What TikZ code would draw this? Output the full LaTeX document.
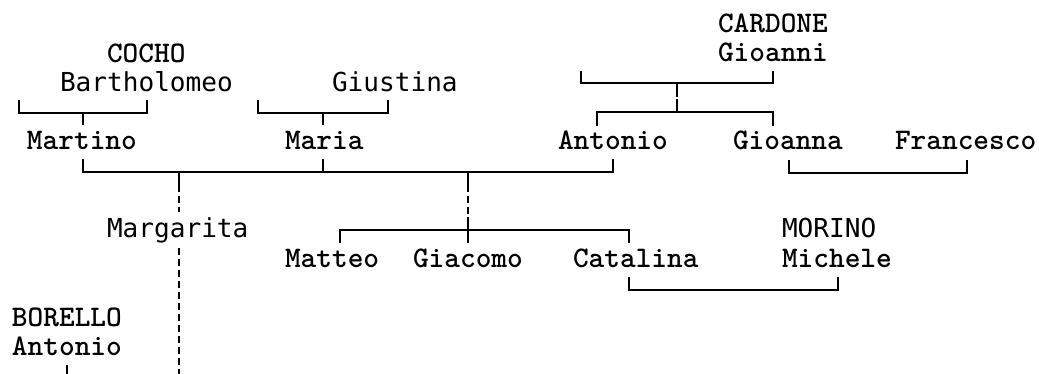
\documentclass[tikz,border=0pt]{standalone}
\usepackage{fontspec}
\newfontfamily\sansmonofam{DejaVu Sans Mono}
\newcommand\sermono{\ttfamily\bfseries\fontsize{29.9}{32}\selectfont}
\newcommand\sanmono{\sansmonofam\fontsize{26.1}{28}\selectfont}
\tikzset{
  sername/.style={font=\sermono, anchor=base west, inner sep=0pt, outer sep=0pt},
  sanname/.style={font=\sanmono, anchor=base west, inner sep=0pt, outer sep=0pt},
  link/.style={line width=1.8pt, line cap=butt},
  dlink/.style={line width=1.8pt, dash pattern=on 7pt off 4pt},
}
\begin{document}
\begin{tikzpicture}[x=1pt,y=-1pt]
\useasboundingbox (0,0) rectangle (1039,374);
% names
\node[sername] (cardone) at (718,33) {CARDONE};
\node[sername] (gioanni) at (718,62) {Gioanni};
\node[sername] (cocho) at (107,63) {COCHO};
\node[sanname] (bartholomeo) at (60,92) {Bartholomeo};
\node[sanname] (giustina) at (332,92) {Giustina};
\node[sername] (martino) at (27,150) {Martino};
\node[sername] (maria) at (285,150) {Maria};
\node[sername] (antonio) at (558,150) {Antonio};
\node[sername] (gioanna) at (733,150) {Gioanna};
\node[sername] (francesco) at (895,150) {Francesco};
\node[sanname] (margarita) at (107,237) {Margarita};
\node[sanname] (morino) at (782,237) {MORINO};
\node[sername] (matteo) at (285,267) {Matteo};
\node[sername] (giacomo) at (413,267) {Giacomo};
\node[sername] (catalina) at (573,267) {Catalina};
\node[sername] (michele) at (782,267) {Michele};
\node[sername] (borello) at (12,326) {BORELLO};
\node[sername] (antoniob) at (12,355) {Antonio};
% coordinates
\coordinate (cbL) at (19,100); \coordinate (cbLb) at (19,113);
\coordinate (cbR) at (147,100); \coordinate (cbRb) at (147,113);
\coordinate (cbM) at (83,113); \coordinate (martinoT) at (83,125);
\coordinate (gbL) at (258,100); \coordinate (gbLb) at (258,113);
\coordinate (gbR) at (388,100); \coordinate (gbRb) at (388,113);
\coordinate (gbM) at (323,113); \coordinate (mariaT) at (323,125);
\coordinate (kbL) at (581,71); \coordinate (kbLb) at (581,83);
\coordinate (kbR) at (773,71); \coordinate (kbRb) at (773,83);
\coordinate (kbM) at (677,83); \coordinate (kbM2) at (677,97);
\coordinate (ksM) at (677,99); \coordinate (ksMb) at (677,112);
\coordinate (antonioT) at (597,126); \coordinate (ksL) at (597,112);
\coordinate (gioannaT) at (773,126); \coordinate (ksR) at (773,112);
\coordinate (martinoB) at (83,159); \coordinate (mlL) at (83,172);
\coordinate (antonioB) at (613,159); \coordinate (mlR) at (613,172);
\coordinate (mariaB) at (323,159); \coordinate (mlM) at (323,172);
\coordinate (d1a) at (179,172); \coordinate (d1b) at (179,185);
\coordinate (d1c) at (179,212); \coordinate (d1d) at (179,248);
\coordinate (d1e) at (179,374);
\coordinate (d2a) at (468,172); \coordinate (d2b) at (468,185);
\coordinate (d2c) at (468,217); \coordinate (d2d) at (468,243);
\coordinate (gioannaB) at (789,160); \coordinate (gfL) at (789,173);
\coordinate (francescoB) at (967,160); \coordinate (gfR) at (967,173);
\coordinate (matteoT) at (340,243); \coordinate (chL) at (340,230);
\coordinate (catalinaT) at (629,243); \coordinate (chR) at (629,230);
\coordinate (catalinaB) at (629,277); \coordinate (cmL) at (629,290);
\coordinate (micheleB) at (838,277); \coordinate (cmR) at (838,290);
\coordinate (antoniobB) at (67,365); \coordinate (abEnd) at (67,374);
% connectors
\draw[link] (cbL) -- (cbLb) -- (cbRb) -- (cbR);
\draw[link] (cbM) -- (martinoT);
\draw[link] (gbL) -- (gbLb) -- (gbRb) -- (gbR);
\draw[link] (gbM) -- (mariaT);
\draw[link] (kbL) -- (kbLb) -- (kbRb) -- (kbR);
\draw[link] (kbM) -- (kbM2);
\draw[link] (ksM) -- (ksMb);
\draw[link] (antonioT) -- (ksL) -- (ksR) -- (gioannaT);
\draw[link] (martinoB) -- (mlL) -- (mlR) -- (antonioB);
\draw[link] (mariaB) -- (mlM);
\draw[link] (d1a) -- (d1b);
\draw[dlink] (d1b) -- (d1c);
\draw[dlink] (d1d) -- (d1e);
\draw[link] (d2a) -- (d2b);
\draw[dlink] (d2b) -- (d2c);
\draw[link] (d2c) -- (d2d);
\draw[link] (gioannaB) -- (gfL) -- (gfR) -- (francescoB);
\draw[link] (matteoT) -- (chL) -- (chR) -- (catalinaT);
\draw[link] (catalinaB) -- (cmL) -- (cmR) -- (micheleB);
\draw[link] (antoniobB) -- (abEnd);
\end{tikzpicture}
\end{document}
